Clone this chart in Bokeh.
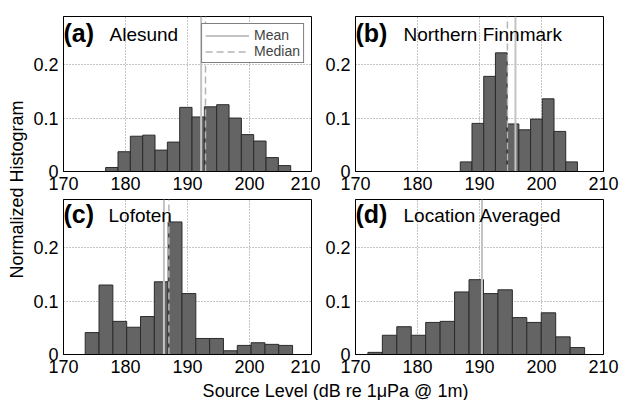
import math
from bokeh.plotting import figure
from bokeh.layouts import row, column
from bokeh.models import Range1d, FixedTicker
from bokeh.core.properties import value
from bokeh.embed import file_html
from bokeh.resources import INLINE

FONT = "Liberation Sans"

# ---------------- data ----------------
panel_letters = ["(a)", "(b)", "(c)", "(d)"]
panel_names = ["Alesund", "Northern Finnmark", "Lofoten", "Location Averaged"]

bin_start = [176.8, 186.9, 173.5, 172.0]
bin_width = [1.99, 1.89, 2.23, 2.33]

hist_a = [0.0075, 0.037, 0.066, 0.068, 0.040, 0.055, 0.120, 0.102, 0.121,
          0.125, 0.100, 0.069, 0.057, 0.026, 0.011]
hist_b = [0.018, 0.090, 0.178, 0.222, 0.089, 0.078, 0.098, 0.136, 0.075, 0.018]
hist_c = [0.041, 0.130, 0.062, 0.051, 0.071, 0.136, 0.248, 0.114, 0.030,
          0.030, 0.007, 0.017, 0.022, 0.019, 0.017]
hist_d = [0.004, 0.036, 0.052, 0.036, 0.060, 0.062, 0.117, 0.140, 0.114,
          0.121, 0.069, 0.060, 0.078, 0.033, 0.013]
hists = [hist_a, hist_b, hist_c, hist_d]

mean_sl = [192.2, 195.8, 186.2, 190.4]
median_sl = [192.9, 194.5, 187.0, None]

x_ticks = [170, 180, 190, 200, 210]
y_ticks = [0, 0.1, 0.2]
y_tick_labels = ["0", "0.1", "0.2"]
x_lim = (170, 210)
y_lim = (0, 0.29)

x_label = "Source Level (dB re 1\u03bcPa @ 1m)"
y_label = "Normalized Histogram"

# ---------------- styling / layout ----------------
BAR_FILL = "#646464"
BAR_LINE = "#2b2b2b"
MEAN_COLOR = "#c4c4c4"
MEDIAN_COLOR = "#b4b4b4"
GRID_COLOR = "#8a8a8a"

FRAME_W, FRAME_H = 248, 155
borders = [  # left, right, top, bottom
    (35, 9, 16, 25),
    (35, 16, 16, 25),
    (35, 9, 3, 25),
    (35, 16, 3, 25),
]
name_offsets = [46, 48, 45, 48]
letter_y_offsets = [16, 16, 14, 14]
name_y_offsets = [18, 18, 16, 16]


def make_panel(i):
    bl, br, bt, bb = borders[i]
    p = figure(frame_width=FRAME_W, frame_height=FRAME_H,
               x_range=Range1d(*x_lim), y_range=Range1d(*y_lim),
               output_backend="svg", toolbar_location=None, title=None,
               min_border_left=bl, min_border_right=br,
               min_border_top=bt, min_border_bottom=bb)
    p.background_fill_color = "white"
    p.border_fill_color = "white"
    p.outline_line_color = "black"
    p.outline_line_width = 1
    p.outline_line_alpha = 1

    for ax in (p.xaxis[0], p.yaxis[0]):
        ax.axis_line_color = "black"
        ax.major_tick_in = 0
        ax.major_tick_out = 0
        ax.minor_tick_line_color = None
        ax.major_label_text_font = FONT
        ax.major_label_text_font_size = "18px"
        ax.major_label_text_color = "black"
    p.xaxis.ticker = FixedTicker(ticks=x_ticks)
    p.yaxis.ticker = FixedTicker(ticks=y_ticks)
    p.yaxis.major_label_overrides = {t: l for t, l in zip(y_ticks, y_tick_labels)}
    p.xaxis.major_label_standoff = 5
    p.yaxis.major_label_standoff = 5

    for g in (p.xgrid[0], p.ygrid[0]):
        g.grid_line_color = GRID_COLOR
        g.grid_line_dash = "1 2"
        g.grid_line_width = 1
    p.xgrid.ticker = FixedTicker(ticks=x_ticks)
    p.ygrid.ticker = FixedTicker(ticks=y_ticks)

    h = hists[i]
    lefts = [bin_start[i] + k * bin_width[i] for k in range(len(h))]
    rights = [l + bin_width[i] for l in lefts]
    p.quad(left=lefts, right=rights, top=h, bottom=[0] * len(h),
           fill_color=BAR_FILL, line_color=BAR_LINE, line_width=1)

    kw_mean = {}
    kw_med = {}
    if i == 0:
        kw_mean = dict(legend_label="Mean")
        kw_med = dict(legend_label="Median")
    p.line(x=[mean_sl[i], mean_sl[i]], y=[y_lim[0], y_lim[1]],
           line_color=MEAN_COLOR, line_width=2, **kw_mean)
    if median_sl[i] is not None:
        p.line(x=[median_sl[i], median_sl[i]], y=[y_lim[0], y_lim[1]],
               line_color=MEDIAN_COLOR, line_width=1.5, line_dash="7 4", **kw_med)

    p.text(x=[x_lim[0]], y=[y_lim[1]], text=[panel_letters[i]],
           x_offset=0, y_offset=letter_y_offsets[i],
           text_font=value(FONT), text_font_size="25px", text_font_style="bold",
           text_baseline="alphabetic", text_align="left", text_color="black")
    p.text(x=[x_lim[0]], y=[y_lim[1]], text=[panel_names[i]],
           x_offset=name_offsets[i], y_offset=name_y_offsets[i],
           text_font=value(FONT), text_font_size="19px",
           text_baseline="alphabetic", text_align="left", text_color="black")

    if i == 0:
        lg = p.legend[0]
        lg.location = "top_right"
        lg.margin = 7
        lg.padding = 3
        lg.spacing = 0
        lg.border_line_color = "black"
        lg.border_line_width = 1
        lg.background_fill_color = "white"
        lg.background_fill_alpha = 1
        lg.label_text_font = FONT
        lg.label_text_font_size = "14px"
        lg.glyph_width = 44
        lg.glyph_height = 15
        lg.label_height = 15
        lg.label_standoff = 5
    return p


panels = [make_panel(i) for i in range(4)]

a_w = borders[0][0] + FRAME_W + borders[0][1]
b_w = borders[1][0] + FRAME_W + borders[1][1]
top_h = borders[0][2] + FRAME_H + borders[0][3]
bot_h = borders[2][2] + FRAME_H + borders[2][3]
TOTAL_H = 400
YLAB_W = 28
xlab_h = TOTAL_H - top_h - bot_h


def blank_strip(w, h):
    f = figure(width=w, height=h, x_range=Range1d(0, w), y_range=Range1d(0, h),
               x_axis_type=None, y_axis_type=None,
               output_backend="svg", toolbar_location=None, title=None,
               min_border=0)
    f.grid.visible = False
    f.outline_line_color = None
    f.background_fill_color = "white"
    f.border_fill_color = "white"
    return f


# y label strip
ylab = blank_strip(YLAB_W, TOTAL_H)
ylab.text(x=[16.5], y=[TOTAL_H - 189], text=[y_label], angle=math.pi / 2,
          text_font=value(FONT), text_font_size="18px",
          text_align="center", text_baseline="alphabetic", text_color="black")

# x label strip
xlab = blank_strip(a_w + b_w, xlab_h)
xlab.text(x=[307], y=[10], text=[x_label],
          text_font=value(FONT), text_font_size="18px",
          text_align="center", text_baseline="alphabetic", text_color="black")

layout = row(ylab, column(row(panels[0], panels[1]),
                          row(panels[2], panels[3]),
                          xlab))

open("out.html", "w").write(file_html(layout, INLINE))
